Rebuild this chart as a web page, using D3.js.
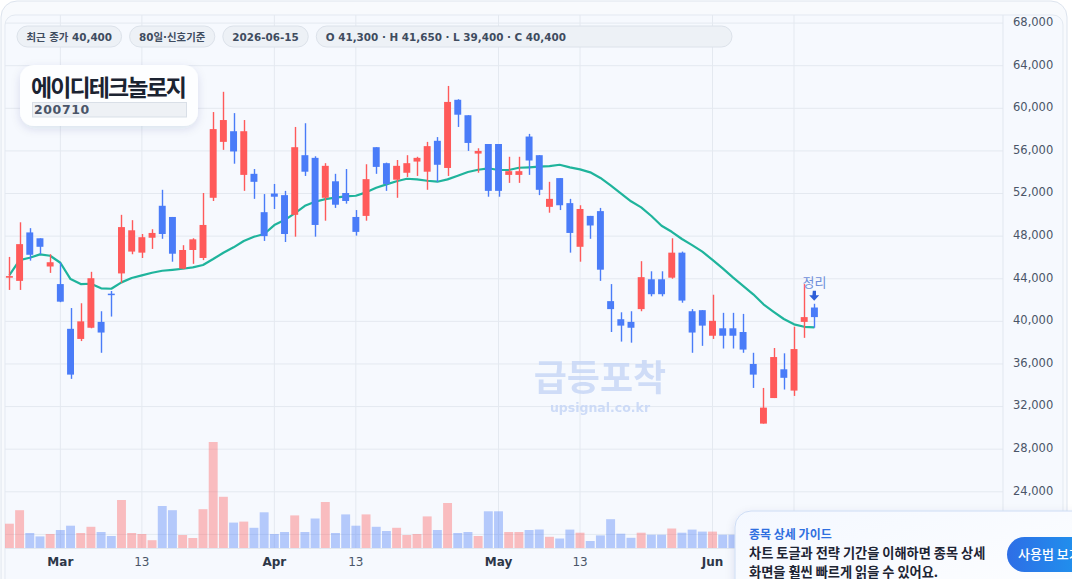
<!DOCTYPE html>
<html>
<head>
<meta charset="utf-8">
<script src="https://cdn.jsdelivr.net/npm/d3@7"></script>
<style>
  html, body { margin: 0; padding: 0; background: #ffffff; }
  svg { display: block; font-family: "DejaVu Sans", "Noto Sans CJK KR", sans-serif; }
</style>
</head>
<body>
<div id="chart"></div>
<script>
// trading days shown (80 bars)
const dates = [
  "2026-02-23","2026-02-24","2026-02-25","2026-02-26","2026-02-27",
  "2026-03-03","2026-03-04","2026-03-05","2026-03-06",
  "2026-03-09","2026-03-10","2026-03-11","2026-03-12","2026-03-13",
  "2026-03-16","2026-03-17","2026-03-18","2026-03-19","2026-03-20",
  "2026-03-23","2026-03-24","2026-03-25","2026-03-26","2026-03-27",
  "2026-03-30","2026-03-31","2026-04-01","2026-04-02","2026-04-03",
  "2026-04-06","2026-04-07","2026-04-08","2026-04-09","2026-04-10",
  "2026-04-13","2026-04-14","2026-04-15","2026-04-16","2026-04-17",
  "2026-04-20","2026-04-21","2026-04-22","2026-04-23","2026-04-24",
  "2026-04-27","2026-04-28","2026-04-29","2026-04-30","2026-05-01",
  "2026-05-04","2026-05-05","2026-05-06","2026-05-07","2026-05-08",
  "2026-05-11","2026-05-12","2026-05-13","2026-05-14","2026-05-15",
  "2026-05-18","2026-05-19","2026-05-20","2026-05-21","2026-05-22",
  "2026-05-25","2026-05-26","2026-05-27","2026-05-28","2026-05-29",
  "2026-06-01","2026-06-02","2026-06-03","2026-06-04","2026-06-05",
  "2026-06-08","2026-06-09","2026-06-10","2026-06-11","2026-06-12",
  "2026-06-15"
];

const opens = [44100,43800,48350,47800,45150,43500,39300,38350,39400,39950,
  42600,44500,46550,46450,47850,50850,49800,44950,46700,45950,
  51600,56850,57850,53750,53850,50250,52000,51850,50000,55600,
  55350,51600,53150,52050,49800,49900,56350,54850,53300,53950,
  55000,54050,56950,54400,60800,59350,55750,56650,56650,53750,
  53750,57350,55600,50750,53450,51100,47000,49900,50350,41900,
  40200,39950,41150,43950,43950,44100,46450,40950,41050,38650,
  39350,39350,39000,36000,30400,32800,35500,33500,39950,41300];
const highs = [46050,49300,48750,47800,46300,45500,41250,41700,44650,40950,
  42850,50000,49500,48200,48650,52350,49800,47150,47800,52050,
  59650,61550,59550,58900,54300,51950,52900,52250,58250,58600,
  55500,54850,53850,54300,50450,54750,56350,54900,55150,55600,
  55450,56850,57300,62100,60850,59350,56250,56650,56650,55450,
  55450,57600,55600,53100,53450,51500,50900,49900,50650,43500,
  40850,40950,45650,44700,44700,47800,46550,41150,41050,42500,
  40800,40800,40700,37050,33750,37500,37000,39500,43500,41650];
const lows = [42950,42950,45700,46300,44550,41800,34600,38150,39350,37050,
  40450,43600,46300,45950,46800,47750,45600,44900,45400,45750,
  51300,56100,54800,52250,51500,47550,50550,47450,47950,53650,
  47950,49450,50650,51050,48050,49450,53850,52250,51600,53550,
  53650,52350,53100,53650,58250,56000,53950,51700,51700,53000,
  53000,53750,51850,50200,50450,46450,45600,47750,43800,39000,
  38100,38000,40950,42350,42350,44000,41750,37050,37700,38350,
  37450,37450,37050,33750,30400,32800,33600,33000,38450,39400];
const closes = [44250,47250,46250,47000,45550,41850,35000,40000,44050,38950,
  42500,48850,48550,47900,48300,48200,46350,46700,47700,49050,
  58050,58900,55950,57850,53100,48000,51700,48200,56350,54050,
  49050,54600,50950,51300,48400,53350,54500,52900,54600,54850,
  55350,56450,54700,60600,59400,56750,56000,52250,52250,54100,
  54100,55100,52350,51500,50900,48300,50550,49000,44850,41150,
  39600,39400,44150,42550,42550,46450,41950,38950,39600,40050,
  38650,38650,37350,35000,31900,36650,34700,37400,40400,40400];
// volume (thousand shares)
const volumes = [243,378,150,116,140,180,223,150,212,160,
  120,480,150,140,78,420,378,130,100,388,
  1060,512,254,264,202,357,140,160,326,160,
  295,460,150,336,223,336,212,170,202,130,
  140,316,180,450,150,160,120,367,367,160,
  160,180,185,112,95,184,153,70,126,288,
  143,102,153,133,133,195,153,184,164,164,
  133,133,150,190,260,240,160,280,220,170];
// moving average line
const maValues = [44350,45750,45970,46290,46160,45500,43970,43500,43530,43100,
  43060,43660,44070,44320,44560,44750,44840,44940,45070,45290,
  45850,46440,46950,47540,47940,48200,49040,49510,50140,50850,
  51230,51480,51610,51740,51790,52110,52540,52860,53150,53390,
  53330,53200,53110,53330,53670,54020,54230,54370,54210,54210,
  54420,54460,54520,54580,54700,54460,54270,53990,53460,52770,
  52020,51270,50700,49890,48980,48410,47730,47160,46540,45780,
  44980,44130,43340,42540,41600,40900,40220,39720,39490,39440];

// the last grid line sits under the guide box, so its label is not shown
const timeTicks = ["2026-03-03","2026-03-13","2026-04-01","2026-04-13","2026-05-01","2026-05-13","2026-06-01","2026-06-11"];
const timeTickLabels = ["Mar","13","Apr","13","May","13","Jun",""];
const monthTicks = ["Mar","Apr","May","Jun"];
const priceGrid = [20000,24000,28000,32000,36000,40000,44000,48000,52000,56000,60000,64000,68000];
const priceTicks = [24000,28000,32000,36000,40000,44000,48000,52000,56000,60000,64000,68000];

const headerPills = ["최근 종가 40,400", "80일·신호기준", "2026-06-15", "O 41,300 · H 41,650 · L 39,400 · C 40,400"];
const stockName = "에이디테크놀로지";
const stockCode = "200710";
const signalLabel = "정리";

const W = 1072, H = 579;
const pane = {left: 5, top: 15, right: 1003, bottom: 548};
const upColor = "#ff5a5a", downColor = "#4a7cf8";

const svg = d3.select("#chart").append("svg")
  .attr("width", W).attr("height", H);

const defs = svg.append("defs");
const shadow = defs.append("filter").attr("id", "shadow")
  .attr("x", "-20%").attr("y", "-30%").attr("width", "140%").attr("height", "170%");
shadow.append("feDropShadow").attr("dx", 0).attr("dy", 3).attr("stdDeviation", 5)
  .attr("flood-color", "#1e3a6e").attr("flood-opacity", 0.12);
const guideGrad = defs.append("linearGradient").attr("id", "guideGrad")
  .attr("x1", 0).attr("y1", 0).attr("x2", 1).attr("y2", 1);
guideGrad.append("stop").attr("offset", "0%").attr("stop-color", "#f4f8ff");
guideGrad.append("stop").attr("offset", "100%").attr("stop-color", "#ffffff");
const btnGrad = defs.append("linearGradient").attr("id", "btnGrad")
  .attr("x1", 0).attr("y1", 0).attr("x2", 1).attr("y2", 0);
btnGrad.append("stop").attr("offset", "0%").attr("stop-color", "#2e6ee6");
btnGrad.append("stop").attr("offset", "100%").attr("stop-color", "#1a9ff0");
defs.append("clipPath").attr("id", "paneClip").append("rect")
  .attr("x", pane.left).attr("y", pane.top)
  .attr("width", pane.right - pane.left).attr("height", pane.bottom - pane.top);

// card + chart panel
svg.append("rect").attr("x", 1).attr("y", 1).attr("width", 1066).attr("height", 620)
  .attr("rx", 16).attr("fill", "#f8fafd").attr("stroke", "#dde4ee");
svg.append("rect").attr("x", 5).attr("y", 15).attr("width", 1058).attr("height", 600)
  .attr("rx", 10).attr("fill", "#f6f9fe").attr("stroke", "#e3e9f1");

// scales
const x = d3.scaleBand().domain(dates).range([4.3, 819.5])
  .paddingInner(0.32).paddingOuter(0.16);
const cx = d => x(d) + x.bandwidth() / 2;
const y = d3.scaleLinear().domain([20000, 68000]).range([534.4, 23.1]);
const yv = d3.scaleLinear().domain([0, 1200]).range([pane.bottom, pane.bottom - 120]);

const bars = dates.map((d, i) => ({
  date: d, open: opens[i], high: highs[i], low: lows[i], close: closes[i],
  volume: volumes[i], ma: maValues[i]
}));

// grid
const grid = svg.append("g").attr("clip-path", "url(#paneClip)");
grid.selectAll(".hgrid").data(priceGrid).join("line")
  .attr("x1", pane.left).attr("x2", pane.right)
  .attr("y1", d => y(d)).attr("y2", d => y(d))
  .attr("stroke", "#e4e9f0").attr("stroke-width", 1);
grid.selectAll(".vgrid").data(timeTicks).join("line")
  .attr("x1", d => cx(d)).attr("x2", d => cx(d))
  .attr("y1", pane.top).attr("y2", pane.bottom)
  .attr("stroke", "#e4e9f0").attr("stroke-width", 1);

// price scale divider and time axis line
svg.append("line").attr("x1", pane.right).attr("x2", pane.right)
  .attr("y1", pane.top).attr("y2", pane.bottom).attr("stroke", "#e1e7ef");
svg.append("line").attr("x1", pane.left).attr("x2", pane.right)
  .attr("y1", pane.bottom + 0.5).attr("y2", pane.bottom + 0.5).attr("stroke", "#e1e7ef");

// watermark
const wm = svg.append("g").attr("text-anchor", "middle");
wm.append("text").attr("x", 600).attr("y", 391)
  .attr("font-family", "Noto Sans CJK KR").attr("font-weight", 700)
  .attr("font-size", 36).attr("fill", "#c6d6f6").attr("opacity", 0.8).text("급등포착");
wm.append("text").attr("x", 600).attr("y", 412)
  .attr("font-weight", 700).attr("font-size", 12.5).attr("fill", "#c6d6f6").attr("opacity", 0.85)
  .text("upsignal.co.kr");

const plot = svg.append("g").attr("clip-path", "url(#paneClip)");

// volume
plot.selectAll(".vol").data(bars).join("rect")
  .attr("x", d => x(d.date) - 1).attr("width", x.bandwidth() + 2)
  .attr("y", d => yv(d.volume)).attr("height", d => yv(0) - yv(d.volume))
  .attr("fill", d => d.close >= d.open ? upColor : downColor)
  .attr("opacity", 0.38);

// MA line
plot.append("path").datum(bars)
  .attr("fill", "none").attr("stroke", "#1fb49c").attr("stroke-width", 2.2)
  .attr("stroke-linejoin", "round")
  .attr("d", d3.line().x(d => cx(d.date)).y(d => y(d.ma)));

// candles
const candle = plot.selectAll(".candle").data(bars).join("g");
candle.append("line")
  .attr("x1", d => Math.round(cx(d.date)) + 0.5).attr("x2", d => Math.round(cx(d.date)) + 0.5)
  .attr("y1", d => y(d.high)).attr("y2", d => y(d.low))
  .attr("stroke", d => d.close >= d.open ? upColor : downColor).attr("stroke-width", 1.4);
candle.append("rect")
  .attr("x", d => x(d.date)).attr("width", x.bandwidth())
  .attr("y", d => y(Math.max(d.open, d.close)))
  .attr("height", d => Math.max(1.5, Math.abs(y(d.open) - y(d.close))))
  .attr("fill", d => d.close >= d.open ? upColor : downColor);

// signal marker on the last bar
const last = bars[bars.length - 1];
svg.append("text").attr("x", cx(last.date)).attr("y", y(last.high) - 17)
  .attr("text-anchor", "middle").attr("font-family", "Noto Sans CJK KR")
  .attr("font-size", 13).attr("fill", "#6f8fda").text(signalLabel);
const ay = y(last.high) - 13;
const ax = cx(last.date);
svg.append("path")
  .attr("d", `M${ax - 1.6},${ay} h3.2 v4.5 h3.2 l-5,5.5 l-5,-5.5 h3.2 z`)
  .attr("fill", "#2f5fd8");

// price axis
const yAxis = svg.append("g").attr("transform", `translate(${pane.right},0)`)
  .call(d3.axisRight(y).tickValues(priceTicks).tickSize(0).tickPadding(10)
    .tickFormat(d3.format(",")));
yAxis.select(".domain").remove();
yAxis.selectAll("text").attr("font-size", 11.5).attr("fill", "#4a5568")
  .attr("font-family", "DejaVu Sans").attr("dy", "0.2em");

// time axis
const xAxis = svg.append("g").attr("transform", `translate(0,${pane.bottom})`)
  .call(d3.axisBottom(x).tickValues(timeTicks).tickSize(0).tickPadding(9)
    .tickFormat((d, i) => timeTickLabels[i]));
xAxis.select(".domain").remove();
xAxis.selectAll("text").attr("font-size", 12).attr("font-family", "DejaVu Sans")
  .attr("font-weight", (d, i) => monthTicks.includes(timeTickLabels[i]) ? 700 : 400)
  .attr("fill", (d, i) => monthTicks.includes(timeTickLabels[i]) ? "#2d3748" : "#4a5568");

// header pills
const pills = svg.append("g");
let px = 17;
headerPills.forEach((t, i) => {
  const g = pills.append("g");
  const r = g.append("rect").attr("y", 26).attr("height", 21).attr("rx", 10.5)
    .attr("fill", "#edf1f6").attr("stroke", "#dce2ea");
  const tx = g.append("text").attr("x", px + 9.5).attr("y", 41)
    .attr("font-size", 10.4).attr("font-weight", 700).attr("fill", "#3f4c5f").text(t);
  const tw = tx.node().getComputedTextLength();
  const w = i === headerPills.length - 1 ? 732 - px : tw + 19;
  r.attr("x", px).attr("width", w);
  px += w + 8;
});

// title card
const tc = svg.append("g");
tc.append("rect").attr("x", 20).attr("y", 65).attr("width", 178).attr("height", 61)
  .attr("rx", 14).attr("fill", "#fdfeff").attr("filter", "url(#shadow)");
tc.append("text").attr("x", 31).attr("y", 96)
  .attr("font-family", "Noto Sans CJK KR").attr("font-weight", 700)
  .attr("font-size", 23).attr("letter-spacing", -1.9).attr("fill", "#1b2331").text(stockName);
tc.append("rect").attr("x", 32.5).attr("y", 102.5).attr("width", 154).attr("height", 14.5)
  .attr("fill", "#eef1f5").attr("stroke", "#d9dfe7");
tc.append("text").attr("x", 34).attr("y", 114)
  .attr("font-size", 12.5).attr("font-weight", 700).attr("letter-spacing", 0.6)
  .attr("fill", "#4a5568").text(stockCode);

// guide box
const gb = svg.append("g");
gb.append("rect").attr("x", 735).attr("y", 511).attr("width", 380).attr("height", 120)
  .attr("rx", 16).attr("fill", "url(#guideGrad)").attr("stroke", "#cddcf5")
  .attr("filter", "url(#shadow)");
gb.append("text").attr("x", 749).attr("y", 539)
  .attr("font-family", "Noto Sans CJK KR").attr("font-weight", 700)
  .attr("font-size", 12).attr("fill", "#2f6fe0").text("종목 상세 가이드");
gb.append("text").attr("x", 749).attr("y", 558)
  .attr("font-family", "Noto Sans CJK KR").attr("font-weight", 700)
  .attr("font-size", 13.2).attr("fill", "#1d2433").text("차트 토글과 전략 기간을 이해하면 종목 상세");
gb.append("text").attr("x", 749).attr("y", 577)
  .attr("font-family", "Noto Sans CJK KR").attr("font-weight", 700)
  .attr("font-size", 13.2).attr("fill", "#1d2433").text("화면을 훨씬 빠르게 읽을 수 있어요.");
gb.append("rect").attr("x", 1007).attr("y", 537).attr("width", 100).attr("height", 35)
  .attr("rx", 17.5).attr("fill", "url(#btnGrad)");
gb.append("text").attr("x", 1018).attr("y", 559)
  .attr("font-family", "Noto Sans CJK KR").attr("font-weight", 500)
  .attr("font-size", 13).attr("fill", "#ffffff").text("사용법 보기");
</script>
</body>
</html>
